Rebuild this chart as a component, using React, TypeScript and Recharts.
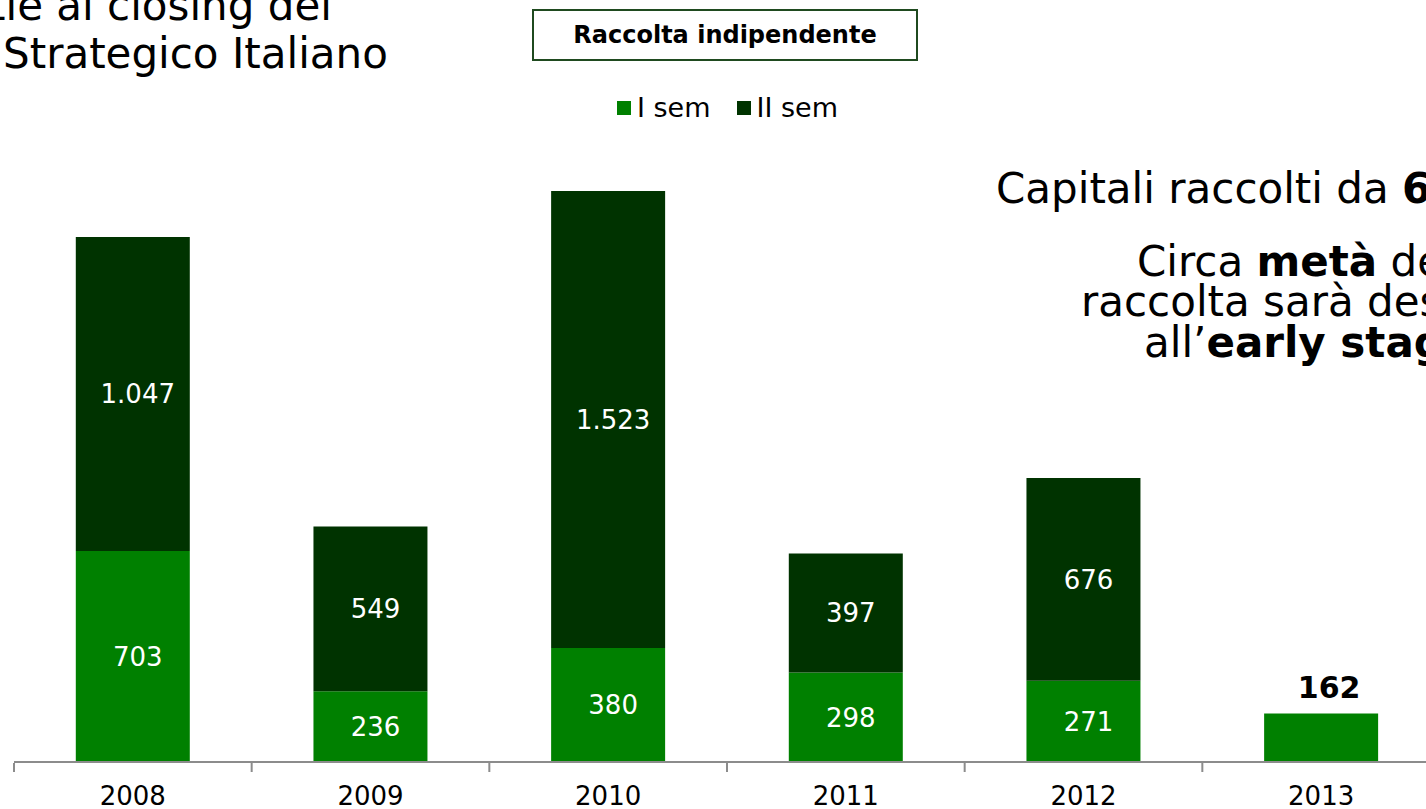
import { BarChart, Bar, XAxis, YAxis, Legend, LabelList } from 'recharts';

// Raccolta indipendente — milioni di euro, per semestre
const years = ['2008', '2009', '2010', '2011', '2012', '2013'];
const firstHalf = [703, 236, 380, 298, 271, 162];
const secondHalf: (number | null)[] = [1047, 549, 1523, 397, 676, null];

const seriesNames = { first: 'I sem', second: 'II sem' };
const seriesColors = { first: '#008000', second: '#003300' };

const FONT = '"DejaVu Sans", Verdana, sans-serif';
const AXIS_GREY = '#8c8c8c';
const TICK_MARGIN = 25;

const data = years.map((year, i) => ({ year, first: firstHalf[i], second: secondHalf[i] }));

function fmt(v: number): string {
    return String(v).replace(/\B(?=(\d{3})+(?!\d))/g, '.');
}

// year label plus the tick marks between categories (at the band edges)
function YearTick(props: any) {
    const { x, y, payload, index, visibleTicksCount } = props;
    const half = payload?.offset ?? 0;
    const axisY = Number(y) - TICK_MARGIN + 1;
    const isLast = index === visibleTicksCount - 1;
    return (
        <g>
            <line x1={x - half} x2={x - half} y1={axisY} y2={axisY + 9} stroke={AXIS_GREY} strokeWidth={2} />
            {isLast && <line x1={x + half} x2={x + half} y1={axisY} y2={axisY + 9} stroke={AXIS_GREY} strokeWidth={2} />}
            <text x={x} y={y} dy="0.71em" textAnchor="middle" fontFamily={FONT} fontSize={26} fill="#000">
                {payload.value}
            </text>
        </g>
    );
}

function FirstLabel(props: any) {
    const { x, y, width, height, value, index } = props;
    if (value == null) return null;
    const cx = Number(x) + Number(width) / 2;
    // the last year has no II sem: value sits above the bar, in bold
    if (data[index].second == null) {
        return (
            <text x={cx + 8} y={Number(y) - 15} textAnchor="middle" fontFamily={FONT} fontSize={30} fontWeight="bold" fill="#000">
                {fmt(value)}
            </text>
        );
    }
    return (
        <text x={cx + 5} y={Number(y) + Number(height) / 2} dy="0.36em" textAnchor="middle" fontFamily={FONT} fontSize={26} fill="#fff">
            {fmt(value)}
        </text>
    );
}

function SecondLabel(props: any) {
    const { x, y, width, height, value } = props;
    if (value == null) return null;
    return (
        <text x={Number(x) + Number(width) / 2 + 5} y={Number(y) + Number(height) / 2} dy="0.36em" textAnchor="middle" fontFamily={FONT} fontSize={26} fill="#fff">
            {fmt(value)}
        </text>
    );
}

function renderLegend() {
    const items = [
        { name: seriesNames.first, color: seriesColors.first },
        { name: seriesNames.second, color: seriesColors.second },
    ];
    return (
        <div style={{ display: 'flex', alignItems: 'center', gap: 26, fontFamily: FONT, fontSize: 27, color: '#000', whiteSpace: 'nowrap' }}>
            {items.map(it => (
                <span key={it.name} style={{ display: 'flex', alignItems: 'center', gap: 6 }}>
                    <span style={{ width: 14, height: 14, background: it.color, display: 'inline-block' }} />
                    {it.name}
                </span>
            ))}
        </div>
    );
}

export default function App() {
    return (
        <div style={{ position: 'fixed', left: 0, top: 0, width: 1426, height: 809, overflow: 'hidden', background: '#fff' }}>
            <BarChart width={1450} height={809} data={data} margin={{ top: 162, right: 10, bottom: 0, left: 14 }} barCategoryGap="26%">
                <XAxis
                    dataKey="year"
                    axisLine={{ stroke: AXIS_GREY, strokeWidth: 2 }}
                    tickLine={false}
                    tickSize={0}
                    tickMargin={TICK_MARGIN}
                    tick={YearTick}
                    height={47}
                    interval={0}
                />
                <YAxis hide domain={[0, 2000]} />
                <Legend verticalAlign="middle" align="center" content={renderLegend} wrapperStyle={{ top: 92, left: 617, width: 'auto' }} />
                <Bar dataKey="first" name={seriesNames.first} stackId="a" fill={seriesColors.first} isAnimationActive={false}>
                    <LabelList dataKey="first" content={FirstLabel} />
                </Bar>
                <Bar dataKey="second" name={seriesNames.second} stackId="a" fill={seriesColors.second} isAnimationActive={false}>
                    <LabelList dataKey="second" content={SecondLabel} />
                </Bar>
            </BarChart>

            {/* chart title box */}
            <div style={{
                position: 'absolute', left: 532, top: 9, width: 382, height: 48,
                border: '2px solid #1f4a1f', display: 'flex', alignItems: 'center', justifyContent: 'center',
                fontFamily: FONT, fontSize: 24, fontWeight: 'bold', color: '#000', background: '#fff',
            }}>
                Raccolta indipendente
            </div>

            {/* slide text around the chart, cropped by the frame */}
            <svg width={1426} height={809} style={{ position: 'absolute', left: 0, top: 0, pointerEvents: 'none' }} fontFamily={FONT} fill="#000">
                <text x={-11} y={20} fontSize={42}>tie al closing del</text>
                <text x={3} y={68} fontSize={42}>Strategico Italiano</text>
                <text x={996} y={203} fontSize={42}>Capitali raccolti da <tspan fontWeight="bold">6</tspan></text>
                <text x={1137} y={276} fontSize={42}>Circa <tspan fontWeight="bold">metà</tspan> della</text>
                <text x={1081} y={316} fontSize={42}>raccolta sarà destinata</text>
                <text x={1144} y={357} fontSize={42}>all’<tspan fontWeight="bold">early stage</tspan></text>
            </svg>
        </div>
    );
}
